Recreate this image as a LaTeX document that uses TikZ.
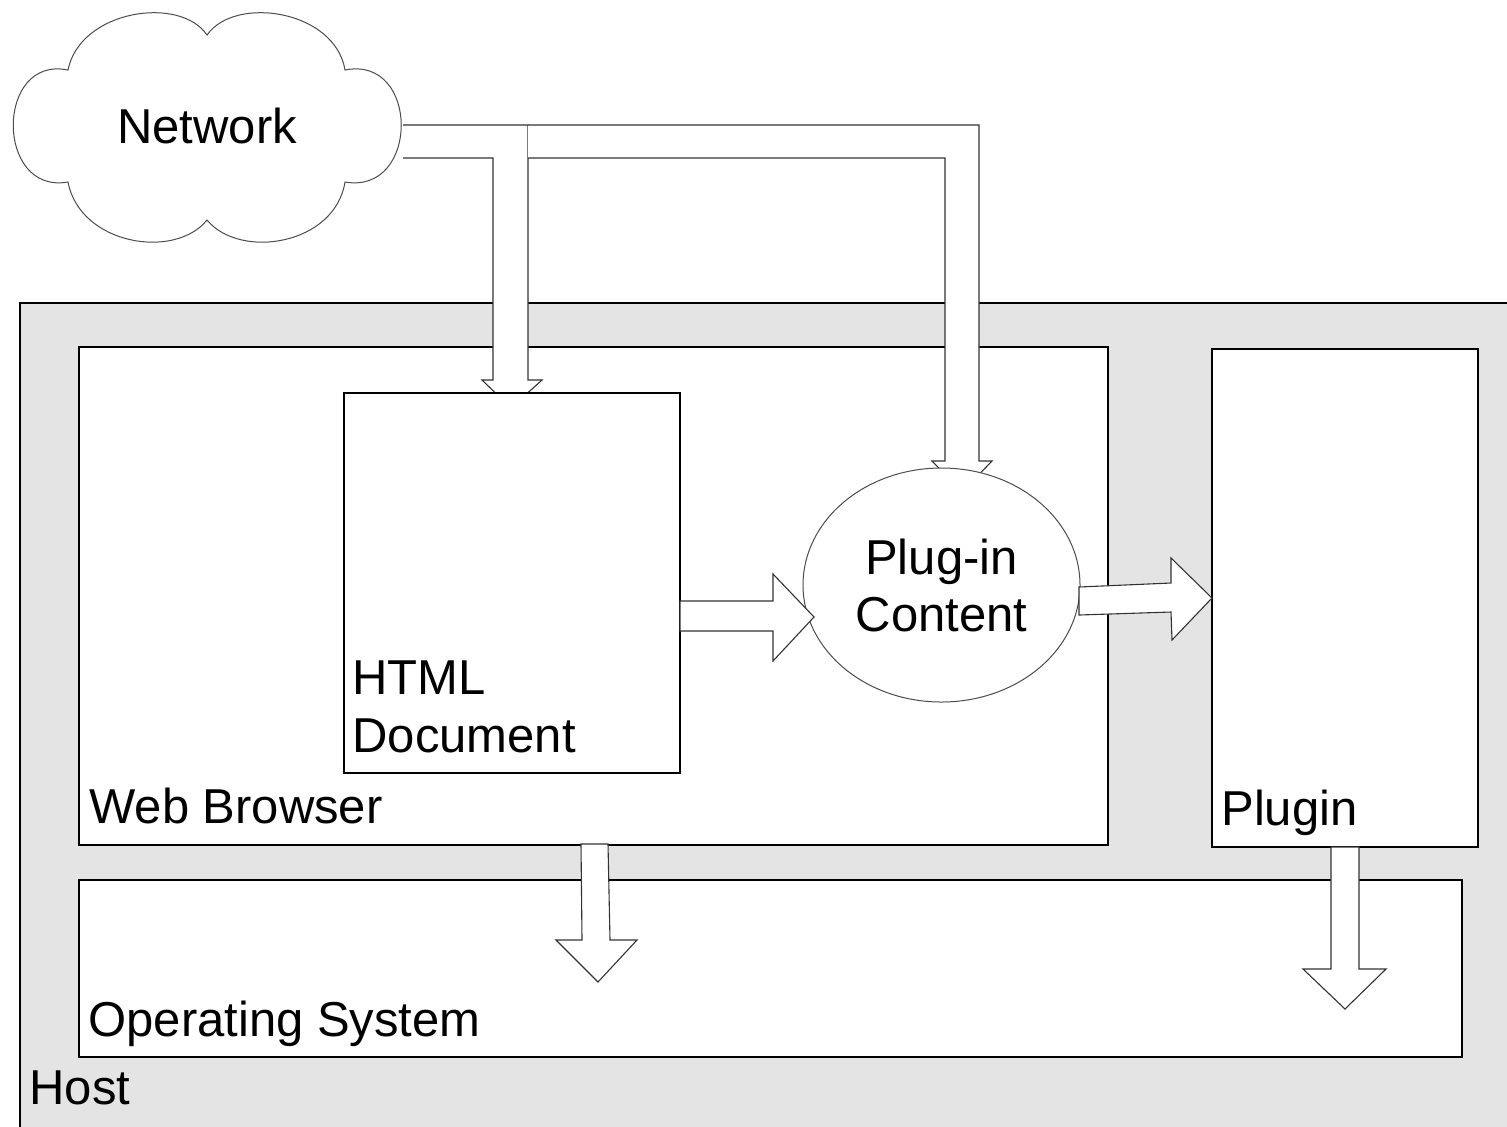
\documentclass[tikz,border=0pt]{standalone}
\usepackage{fontspec}
\setmainfont{Liberation Sans}
\usetikzlibrary{fit,shapes.geometric}
\definecolor{hostgray}{HTML}{E4E4E4}
\begin{document}
\begin{tikzpicture}[x=0.5pt,y=-0.5pt,
  line join=miter,
  frame/.style={draw=black, line width=0.6pt, inner sep=0pt, fill=white},
  blockarrow/.style={draw=black!80, line width=0.55pt, fill=white, line join=miter},
  lbl/.style={inner sep=0pt, font=\fontsize{24.5pt}{29pt}\selectfont, align=left},
  cloudline/.style={draw=black!70, line width=0.5pt, fill=white}]
\useasboundingbox (0,0) rectangle (1507,1126);
\clip (0,0) rectangle (1507,1126);

% Host
\node[frame, fill=hostgray, fit={(20,303)(1540,1150)}] (host) {};
\node[lbl, anchor=base west] (hostlbl) at (29,1104) {Host};

% Web Browser
\node[frame, fit={(79,347)(1108,845)}] (web) {};
\node[lbl, anchor=base west] (weblbl) at (89,823) {Web Browser};

% Plugin
\node[frame, fit={(1212,349)(1478,847)}] (plugin) {};
\node[lbl, anchor=base west] (pluginlbl) at (1221,825) {Plugin};

% Operating System
\node[frame, fit={(79,880)(1462,1057)}] (os) {};
\node[lbl, anchor=base west] (oslbl) at (88,1036) {Operating System};

% Network cloud
\path[cloudline] (68,70)
  .. controls (80,10) and (180,-5) .. (207,35)
  .. controls (235,-5) and (335,10) .. (345,70)
  .. controls (420,55) and (420,195) .. (345,182)
  .. controls (335,245) and (240,260) .. (207,220)
  .. controls (175,260) and (80,245) .. (68,182)
  .. controls (-5,195) and (-5,55) .. (68,70) -- cycle;
\node[lbl, anchor=base] (network) at (207,143) {Network};

% Network -> HTML Document
\draw[blockarrow] (403,125) -- (528,125) -- (528,380) -- (542,380) -- (511,408)
  -- (482,380) -- (493,380) -- (493,158) -- (403,158);
% Network -> Plug-in Content
\draw[blockarrow] (528,125) -- (979,125) -- (979,461) -- (992,461) -- (962,492)
  -- (932,461) -- (945,461) -- (945,158) -- (528,158);

% HTML Document
\node[frame, fit={(344,393)(680,773)}] (html) {};
\node[lbl, anchor=base west] (htmllbl) at (352,694) {HTML};
\node[lbl, anchor=base west] (doclbl) at (352,752) {Document};

% Plug-in Content
\node[cloudline, ellipse, minimum width=138.5pt, minimum height=117pt, inner sep=0pt] (content) at (941.5,585) {};
\node[lbl, anchor=base] (contentlbl1) at (941.5,574) {Plug-in};
\node[lbl, anchor=base] (contentlbl2) at (941.5,631) {Content};

% HTML -> Plug-in Content
\draw[blockarrow] (680,601) -- (773,601) -- (773,574) -- (814,617) -- (773,661)
  -- (773,631) -- (680,631) -- cycle;
% Plug-in Content -> Plugin
\draw[blockarrow] (1079,587) -- (1171,583) -- (1171,558) -- (1212,598) -- (1172,640)
  -- (1171,612) -- (1079,615) -- cycle;
% Web Browser -> Operating System
\draw[blockarrow] (581,844) -- (608,844) -- (610,940) -- (637,940) -- (598,982)
  -- (556,940) -- (582,940) -- cycle;
% Plugin -> Operating System
\draw[blockarrow] (1331,847) -- (1359,847) -- (1359,969) -- (1386,969) -- (1345,1009)
  -- (1303,969) -- (1331,969) -- cycle;
\end{tikzpicture}
\end{document}
